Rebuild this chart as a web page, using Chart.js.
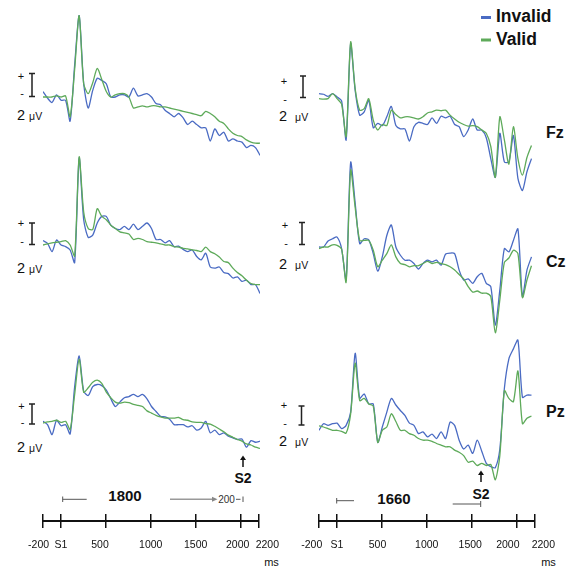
<!DOCTYPE html>
<html>
<head>
<meta charset="utf-8">
<title>ERP Invalid vs Valid</title>
<script src="https://cdn.jsdelivr.net/npm/chart.js@4.4.1/dist/chart.umd.min.js"></script>
<style>
  body { margin: 0; width: 573px; height: 571px; background: #fff; position: relative; overflow: hidden;
         font-family: "Liberation Sans", Arial, sans-serif; color: #111; }
  canvas { position: absolute; }
  svg { position: absolute; left: 0; top: 0; }
  .t { position: absolute; transform: translate(-50%, -50%); white-space: nowrap; line-height: 1; }
  .l { position: absolute; transform: translate(0, -50%); white-space: nowrap; line-height: 1; }
</style>
</head>
<body>

<svg width="573" height="571">
  <g stroke="#222" stroke-width="1.5" fill="none">
    <!-- barras de calibracion 2 uV -->
    <path d="M32 73.5V96.5M29 73.5H35M29 96.5H35"/>
    <path d="M32 223V244.5M29 223H35M29 244.5H35"/>
    <path d="M32 404V424M29 404H35M29 424H35"/>
    <path d="M303 76V97.5M300 76H306M300 97.5H306"/>
    <path d="M302 222.5V244.5M299 222.5H305M299 244.5H305"/>
    <path d="M301.5 406V425M298.5 406H304.5M298.5 425H304.5"/>
  </g>
  <!-- leyenda -->
  <line x1="481" y1="17.5" x2="491" y2="17.5" stroke="#4a6bc3" stroke-width="3"/>
  <line x1="481" y1="40" x2="491" y2="40" stroke="#5eaa5a" stroke-width="3"/>
  <!-- flechas S2 -->
  <g stroke="#111" stroke-width="1.5" fill="#111">
    <line x1="243" y1="467" x2="243" y2="459"/><path d="M240 460L243 455.5L246 460Z" stroke="none"/>
    <line x1="481" y1="482" x2="481" y2="474"/><path d="M478 475L481 470.5L484 475Z" stroke="none"/>
  </g>
  <!-- intervalos 1800 / 1660 -->
  <g stroke="#555" stroke-width="1" fill="none">
    <path d="M62.7 496.5V502M62.7 499.3H86.7"/>
    <path d="M236 499.3H240.5M243 496.5V502"/>
    <path d="M336.7 498V503.5M336.7 500.7H354"/>
    <path d="M452.7 504H480.7M480.7 501V507"/>
  </g>
  <line x1="170" y1="499.3" x2="213" y2="499.3" stroke="#999" stroke-width="1.5"/>
  <path d="M212 496.8L217.5 499.3L212 501.8Z" fill="#888"/>
</svg>

<!-- textos -->
<div class="l" style="left:496px;top:17px;font-weight:bold;font-size:17.5px">Invalid</div>
<div class="l" style="left:496px;top:40px;font-weight:bold;font-size:17.5px">Valid</div>

<div class="l" style="left:546px;top:133px;font-weight:bold;font-size:16px">Fz</div>
<div class="l" style="left:546px;top:262px;font-weight:bold;font-size:16px">Cz</div>
<div class="l" style="left:546px;top:412px;font-weight:bold;font-size:16px">Pz</div>

<div class="t" style="left:21px;top:76px;font-size:11px">+</div>
<div class="t" style="left:22px;top:93px;font-size:11px">-</div>
<div class="l" style="left:17px;top:115px;font-size:14.5px">2 <span style="font-size:10.5px">μV</span></div>
<div class="t" style="left:21px;top:223px;font-size:11px">+</div>
<div class="t" style="left:22px;top:241px;font-size:11px">-</div>
<div class="l" style="left:17px;top:268px;font-size:14.5px">2 <span style="font-size:10.5px">μV</span></div>
<div class="t" style="left:21.5px;top:406px;font-size:11px">+</div>
<div class="t" style="left:22.5px;top:422px;font-size:11px">-</div>
<div class="l" style="left:17px;top:447px;font-size:14.5px">2 <span style="font-size:10.5px">μV</span></div>

<div class="t" style="left:284px;top:81px;font-size:11px">+</div>
<div class="t" style="left:285px;top:99px;font-size:11px">-</div>
<div class="l" style="left:279px;top:116px;font-size:14.5px">2 <span style="font-size:10.5px;margin-left:4px">μV</span></div>
<div class="t" style="left:285px;top:225px;font-size:11px">+</div>
<div class="t" style="left:286px;top:243px;font-size:11px">-</div>
<div class="l" style="left:279px;top:264px;font-size:14.5px">2 <span style="font-size:10.5px;margin-left:4px">μV</span></div>
<div class="t" style="left:284px;top:405px;font-size:11px">+</div>
<div class="t" style="left:285px;top:423px;font-size:11px">-</div>
<div class="l" style="left:279px;top:441px;font-size:14.5px">2 <span style="font-size:10.5px;margin-left:4px">μV</span></div>

<div class="t" style="left:243px;top:478px;font-weight:bold;font-size:14px">S2</div>
<div class="t" style="left:481px;top:493.5px;font-weight:bold;font-size:14px">S2</div>
<div class="t" style="left:125px;top:495px;font-weight:bold;font-size:15px">1800</div>
<div class="t" style="left:394px;top:498px;font-weight:bold;font-size:15px">1660</div>
<div class="t" style="left:226.5px;top:499.5px;font-size:10px;color:#333">200</div>
<div class="t" style="left:271.5px;top:562px;font-size:11px">ms</div>
<div class="t" style="left:548.5px;top:562px;font-size:11px">ms</div>

<script>
// Tiempos (ms) de cada muestra, columna izquierda y derecha
const tiemposIzq = [-200, -150, -100, -50, 0, 50, 100, 150, 200, 250,
  300, 350, 400, 450, 500, 550, 600, 650, 700, 750,
  800, 850, 900, 950, 1000, 1050, 1100, 1150, 1200, 1250,
  1300, 1350, 1400, 1450, 1500, 1550, 1600, 1650, 1700, 1750,
  1800, 1850, 1900, 1950, 2000, 2050, 2100, 2150, 2200];
const tiemposDer = [-200, -150, -100, -50, 0, 50, 100, 150, 200, 250,
  300, 350, 400, 450, 500, 550, 600, 650, 700, 750,
  800, 850, 900, 950, 1000, 1050, 1100, 1150, 1200, 1250,
  1300, 1350, 1400, 1450, 1500, 1550, 1600, 1650, 1700, 1750,
  1800, 1850, 1900, 1950, 2000, 2050, 2100, 2150];

// Amplitudes en microvoltios
const fzIzqInvalid = [0.5, -0.1, -0.5, 0.2, -0.3, -0.3, -2.2, 2.9, 7.4, 1.2,
  -1.0, 0.6, 1.7, 1.5, 1.2, 0.0, 0.0, 0.2, 0.2, 0.0,
  0.8, 0.1, 0.2, 0.3, 0.0, -0.6, -0.7, -1.2, -1.5, -1.8,
  -1.5, -1.9, -2.5, -2.2, -2.5, -2.8, -2.8, -4.0, -2.9, -3.5,
  -3.2, -4.0, -3.8, -4.0, -4.1, -4.6, -4.4, -4.6, -5.3];
const fzIzqValid = [0.0, 0.0, 0.0, 0.1, 0.0, 0.1, -1.8, 2.5, 7.4, 1.2,
  0.3, 1.3, 2.6, 1.6, 0.5, 0.0, 0.2, 0.3, 0.3, 0.0,
  -1.0, -0.9, -0.8, -0.9, -0.8, -0.8, -0.9, -0.9, -1.0, -1.1,
  -1.2, -1.3, -1.4, -1.5, -1.6, -1.7, -1.3, -1.5, -1.8, -2.2,
  -2.4, -2.9, -3.3, -3.5, -3.6, -3.9, -4.1, -4.2, -4.2];

const czIzqInvalid = [0.4, 0.15, -0.6, 0.45, 0.0, -0.15, -0.45, -1.6, 7.9, 2.3,
  0.7, 0.9, 2.0, 2.6, 2.6, 1.8, 1.5, 1.4, 1.7, 1.4,
  1.9, 1.4, 1.7, 2.0, 1.5, 0.5, 0.5, 0.2, 0.4, -0.15,
  -0.1, -0.4, -0.6, -0.45, -1.05, -1.35, -0.75, -2.0, -2.1, -2.0,
  -2.5, -2.6, -3.0, -2.9, -3.3, -3.2, -3.6, -3.6, -4.4];
const czIzqValid = [0.0, 0.1, 0.2, 0.25, 0.3, 0.4, 0.0, -1.0, 8.0, 3.0,
  1.5, 1.4, 3.3, 2.6, 2.3, 1.8, 1.5, 1.2, 1.1, 1.0,
  0.5, 0.6, 0.5, 0.3, 0.25, 0.2, 0.1, 0.0, 0.0, -0.15,
  -0.2, -0.3, -0.35, -0.45, -0.5, -0.6, -0.2, -0.6, -0.8, -1.1,
  -1.5, -1.6, -2.1, -2.5, -2.8, -3.2, -3.5, -3.6, -3.6];

const pzIzqInvalid = [0.15, -0.15, -1.05, 0.25, -0.25, -0.15, -1.0, 3.3, 6.1, 2.9,
  2.5, 3.3, 3.5, 3.4, 3.0, 2.2, 1.5, 1.9, 2.3, 2.4,
  2.6, 2.4, 2.6, 2.2, 1.5, 1.05, 0.6, 0.55, 0.35, -0.15,
  -0.15, -0.15, -0.35, -0.25, -0.65, -0.45, 0.15, -0.9, -0.65, -1.05,
  -0.9, -1.2, -1.35, -1.5, -1.45, -2.2, -1.6, -1.75, -1.65];
const pzIzqValid = [0.0, 0.1, 0.15, 0.25, 0.05, 0.15, -0.6, 2.6, 5.8, 2.8,
  3.2, 3.7, 3.9, 3.6, 2.8, 2.3, 1.9, 1.8, 1.9, 1.85,
  1.7, 1.6, 1.5, 1.1, 0.9, 0.7, 0.55, 0.45, 0.45, 0.45,
  0.5, 0.3, 0.25, 0.1, 0.05, 0.05, -0.05, -0.1, -0.3, -0.55,
  -0.8, -1.1, -1.3, -1.5, -1.65, -1.9, -2.0, -2.2, -2.3];

const fzDerInvalid = [0.3, 0.25, 0.05, 0.3, 0.0, -0.35, -3.9, 4.85, 0.6, -1.65,
  -1.35, -0.3, -2.8, -2.4, -2.6, -1.8, -0.85, -2.6, -2.9, -2.9,
  -4.0, -2.7, -2.3, -2.4, -2.5, -1.9, -2.4, -1.75, -1.9, -1.75,
  -2.5, -2.7, -3.6, -3.0, -2.0, -3.0, -3.0, -3.7, -5.6, -7.3,
  -3.3, -5.9, -5.9, -3.5, -7.4, -8.5, -6.8, -5.6];
const fzDerValid = [-0.15, -0.2, -0.15, 0.3, -0.15, -0.65, -3.6, 5.0, 0.75, -1.2,
  -1.05, -0.15, -2.1, -3.0, -2.5, -2.6, -1.2, -1.6, -1.9, -1.8,
  -1.8, -1.9, -2.0, -1.8, -1.45, -1.35, -1.2, -1.25, -1.2, -1.65,
  -2.0, -2.3, -2.5, -2.65, -2.6, -2.7, -3.0, -3.3, -4.5, -7.3,
  -1.8, -3.9, -6.1, -2.7, -5.6, -7.1, -5.5, -4.4];

const czDerInvalid = [0.0, 0.0, 0.55, 0.75, 0.9, -0.15, -3.0, 7.7, 4.0, 0.3,
  0.75, 0.65, -0.6, -2.2, -0.9, 1.05, 2.0, 0.0, -0.75, -1.2,
  -1.2, -1.5, -2.0, -1.5, -1.2, -1.35, -1.2, -1.65, -0.65, -0.55,
  -0.6, -2.1, -3.0, -2.9, -3.3, -2.7, -2.4, -3.3, -3.6, -7.1,
  -3.9, -0.15, -0.45, 0.6, 1.65, -4.5, -2.1, -0.9];
const czDerValid = [-0.15, 0.0, 0.0, 0.2, 0.15, -0.2, -3.2, 7.0, 3.6, 0.6,
  0.6, 0.6, -0.3, -1.8, -1.2, -0.6, 0.2, -0.9, -1.5, -1.6,
  -1.8, -1.7, -1.7, -1.5, -1.3, -1.5, -1.4, -1.5, -1.6, -1.8,
  -2.1, -2.5, -2.9, -3.6, -4.1, -4.0, -4.2, -4.2, -4.5, -7.8,
  -4.8, -1.4, -1.0, -0.3, -0.6, -4.6, -3.0, -1.7];

const pzDerInvalid = [-0.3, 0.3, 0.15, 0.3, 0.35, -0.15, 0.15, 1.35, 6.7, 2.6,
  3.0, 2.1, 2.1, -1.4, 0.0, 1.35, 2.6, 2.0, 1.5, 1.05,
  0.35, 0.15, -0.6, -0.45, -0.9, -0.65, -1.05, -0.45, -1.05, 0.45,
  0.15, -1.2, -2.0, -1.65, -2.4, -1.2, -2.2, -3.3, -3.6, -3.7,
  -2.0, 3.5, 6.2, 7.1, 7.9, 2.7, 2.9, 2.9];
const pzDerValid = [0.1, 0.0, -0.15, -0.3, -0.3, -0.4, -0.55, 1.2, 5.8, 2.4,
  2.6, 2.1, 1.9, -1.4, -0.3, 0.0, 1.2, 0.5, -0.3, -0.3,
  -0.6, -0.75, -1.05, -1.2, -1.2, -1.3, -1.5, -1.65, -1.8, -1.8,
  -2.1, -2.3, -2.6, -3.2, -3.1, -3.5, -3.3, -3.5, -3.4, -4.8,
  -2.6, 3.3, 2.6, 2.3, 5.1, 0.3, 0.8, 1.0];

// Eje de tiempo de abajo
const ticksEje = [-200, 0, 500, 1000, 1500, 2000, 2200];
const etiquetasEje = ['-200', 'S1', '500', '1000', '1500', '2000', '2200'];

const AZUL = '#4a6bc3';
const VERDE = '#5eaa5a';
const PX_POR_UV = 11;   // escala vertical: 2 uV = 22 px
const ANCHO = 217;      // -200 .. 2200 ms

function nuevoCanvas(left, top, w, h) {
  const cv = document.createElement('canvas');
  cv.width = w; cv.height = h;
  cv.style.left = left + 'px';
  cv.style.top = top + 'px';
  document.body.appendChild(cv);
  return cv;
}

// Un panel = un electrodo, dos condiciones
function panel(left, baseline, tiempos, invalid, valid) {
  const cv = nuevoCanvas(left, baseline - 95, ANCHO, 195);
  const puntos = arr => arr.map((v, i) => ({ x: tiempos[i], y: v }));
  const serie = (label, data, color) => ({
    label, data: puntos(data), borderColor: color, borderWidth: 1.3,
    pointRadius: 0, tension: 0.25, fill: false
  });
  new Chart(cv, {
    type: 'line',
    data: { datasets: [serie('Valid', valid, VERDE), serie('Invalid', invalid, AZUL)] },
    options: {
      responsive: false, animation: false, events: [],
      layout: { padding: 0 },
      plugins: { legend: { display: false }, tooltip: { enabled: false } },
      scales: {
        x: { type: 'linear', min: -200, max: 2200, display: false },
        y: { min: -100 / PX_POR_UV, max: 95 / PX_POR_UV, display: false }
      }
    }
  });
}

// empujoncitos (px) para que las etiquetas no se monten
function correr(txt, px) {
  const n = Math.round(Math.abs(px) / 1.45);
  const sp = ' '.repeat(n);
  return px < 0 ? txt + sp : sp + txt;
}

function eje(left, corrimientos) {
  const cv = nuevoCanvas(left - 30, 514, ANCHO + 60, 52);
  new Chart(cv, {
    type: 'line',
    data: { datasets: [] },
    options: {
      responsive: false, animation: false, events: [],
      layout: { padding: { left: 30, right: 30, top: 0, bottom: 0 } },
      plugins: { legend: { display: false }, tooltip: { enabled: false } },
      scales: {
        x: {
          type: 'linear', min: -200, max: 2200,
          afterBuildTicks: s => { s.ticks = ticksEje.map(v => ({ value: v })); },
          afterFit: s => { s.height = 45; },
          grid: { color: '#111', lineWidth: 1.5, tickLength: 7, drawOnChartArea: true },
          border: { color: '#111', width: 2 },
          ticks: {
            autoSkip: false, maxRotation: 0, minRotation: 0, padding: 11, color: '#111',
            font: { family: 'Liberation Sans', size: 10.5 },
            callback: (v, i) => correr(etiquetasEje[i], corrimientos[i])
          }
        },
        y: { display: false }
      }
    }
  });
}

panel(43.3, 96.7, tiemposIzq, fzIzqInvalid, fzIzqValid);
panel(43.3, 245, tiemposIzq, czIzqInvalid, czIzqValid);
panel(43.3, 423.3, tiemposIzq, pzIzqInvalid, pzIzqValid);
panel(319.3, 96.7, tiemposDer, fzDerInvalid, fzDerValid);
panel(319.3, 246.7, tiemposDer, czDerInvalid, czDerValid);
panel(319.3, 426.7, tiemposDer, pzDerInvalid, pzDerValid);

eje(43.3, [-5, 0, -6, 0, 0, -3, 8]);
eje(319.3, [-7, 0, -5, 0, -1, -8, 9]);
</script>
</body>
</html>
